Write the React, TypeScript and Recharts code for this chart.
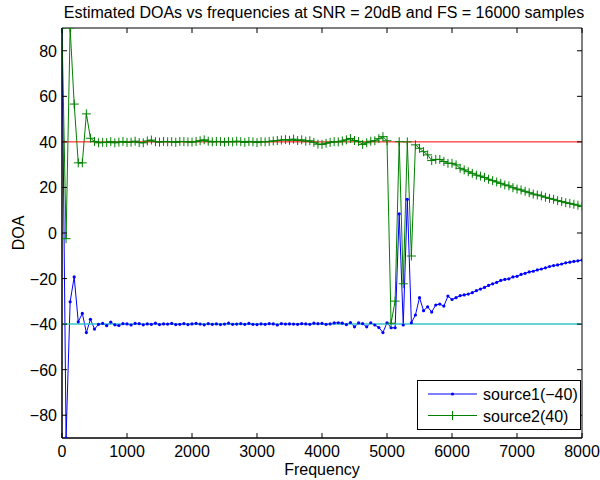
import React from 'react';
import { LineChart, Line, XAxis, YAxis, ReferenceLine, ReferenceArea, Legend } from 'recharts';

const TITLE = 'Estimated DOAs vs frequencies at SNR = 20dB and FS = 16000 samples';
const X_LABEL = 'Frequency';
const Y_LABEL = 'DOA';
const FREQ_STEP = 62.5;
const xTicks = [0, 1000, 2000, 3000, 4000, 5000, 6000, 7000, 8000];
const yTicks = [-80, -60, -40, -20, 0, 20, 40, 60, 80];
const trueDOA1 = -40;
const trueDOA2 = 40;
const seriesNames = ['source1(\u221240)', 'source2(40)'];

// source1 estimated DOA per frequency bin (bin step 62.5 Hz)
const source1 = [
  90, -90, -30.2, -19.3, -39, -35.3, -43.7, -37.9, -42.2, -40.1,
  -39.7, -40.7, -39.1, -40.3, -40.6, -39.8, -39.9, -40.4, -39.7, -39.8,
  -40.3, -39.9, -40.1, -39.6, -40.2, -39.9, -40.0, -39.7, -40.2, -40.1,
  -39.8, -40.2, -39.9, -39.7, -40.0, -40.3, -39.8, -40.1, -39.9, -40.2,
  -40.0, -39.6, -40.1, -40.0, -39.8, -40.1, -39.7, -40.1, -40.2, -39.9,
  -40.1, -39.8, -39.9, -40.4, -39.8, -40.0, -39.9, -40.0, -40.1, -39.8,
  -39.9, -40.1, -39.6, -39.8, -39.7, -40.1, -39.9, -39.5, -39.4, -39.6,
  -40.2, -39.3, -41.2, -39.5, -39.8, -41.2, -39.4, -40.4, -41.5, -43.7,
  -39.4, -41.6, -41.6, 8.4, -40.4, 14.8, -39.4, -36, -28.4, -34.1,
  -32.4, -34.7, -31.6, -31.2, -32.1, -27.7, -29.2, -28.4, -27.5, -27.2,
  -26.8, -26.2, -25.3, -24.6, -23.9, -23, -22.3, -21.7, -20.8, -20.4,
  -20.1, -19.3, -19, -18.2, -17.7, -17.1, -16.8, -16.2, -15.8, -15.3,
  -14.7, -14.3, -14, -13.6, -13.1, -12.8, -12.5, -12.2, -11.9,
];

// source2 estimated DOA per frequency bin
const source2 = [
  90, -2.5, 90, 56.6, 30.8, 30.8, 52.3, 41.6, 40.2, 39.6,
  39.8, 39.7, 40.1, 39.6, 39.9, 40.2, 39.8, 39.9, 40.3, 39.7,
  39.6, 40.4, 40.8, 40.1, 39.9, 40.2, 40.0, 40.1, 39.8, 40.2,
  40.1, 40.0, 39.9, 40.2, 40.5, 40.9, 40.3, 40.0, 40.2, 40.1,
  39.9, 40.2, 40.0, 40.3, 40.1, 39.8, 40.2, 40.0, 39.7, 40.1,
  40.0, 40.2, 40.4, 40.6, 40.8, 41.0, 40.7, 41.2, 40.6, 40.9,
  40.3, 40.5, 39.8, 39.0, 38.9, 39.4, 39.8, 40.1, 40.0, 40.4,
  40.9, 41.5, 40.6, 40.2, 38.9, 39.6, 40.3, 40.5, 41.4, 42.3,
  40.5, -39.6, -29.9, 40.1, -22.3, 40.0, -10.1, 38.7, 37.2, 35.7,
  34.3, 31.8, 32.3, 32.3, 31.4, 30.6, 30.6, 29.9, 28.4, 27.7,
  26.9, 26.2, 25.4, 25, 24.4, 23.6, 23, 22.4, 21.8, 21.1,
  20.7, 19.9, 19.3, 18.9, 18.3, 17.7, 17.1, 16.7, 16.3, 15.7,
  15.2, 14.8, 14.2, 13.8, 13.3, 13, 12.6, 12.2, 11.6,
];

const data = source1.map((v, i) => ({ f: i * FREQ_STEP, s1: v, s2: source2[i] }));

const W = 600;
const H = 480;
const PT = 28;
const PB = 438;
const PL = 62;
const PR = 582;
const FONT = '"Liberation Sans", Arial, Helvetica, sans-serif';
const FS = 16;
const BLUE = '#0000ff';
const GREEN = '#008000';

const fmt = (v: number) => (v < 0 ? '\u2212' + Math.abs(v) : String(v));

const XTick = (p: any) => {
  const { x, payload } = p;
  return (
    <g>
      <line x1={x} x2={x} y1={PB} y2={PB - 5} stroke="#000" />
      <line x1={x} x2={x} y1={PT} y2={PT + 5} stroke="#000" />
      <text x={x} y={457} textAnchor="middle" fontSize={FS} fill="#000" fontFamily={FONT}>
        {fmt(payload.value)}
      </text>
    </g>
  );
};

const YTick = (p: any) => {
  const { y, payload } = p;
  return (
    <g>
      <line x1={PL} x2={PL + 5} y1={y} y2={y} stroke="#000" />
      <line x1={PR} x2={PR - 5} y1={y} y2={y} stroke="#000" />
      <text x={57} y={y + 6} textAnchor="end" fontSize={FS} fill="#000" fontFamily={FONT}>
        {fmt(payload.value)}
      </text>
    </g>
  );
};

const BlueDot = (p: any) => {
  const { cx, cy, index } = p;
  if (cx == null || cy == null) return <g key={index} />;
  return <circle key={index} cx={cx} cy={cy} r={1.6} fill={BLUE} stroke="none" />;
};

const PlusDot = (p: any) => {
  const { cx, cy, index } = p;
  if (cx == null || cy == null) return <g key={index} />;
  const s = 4.5;
  return (
    <path
      key={index}
      d={`M${cx - s},${cy}L${cx + s},${cy}M${cx},${cy - s}L${cx},${cy + s}`}
      stroke={GREEN}
      strokeWidth={1}
      fill="none"
    />
  );
};

const LegendBox = () => (
  <div
    style={{
      width: 164,
      height: 50,
      boxSizing: 'border-box',
      border: '1px solid #000',
      background: '#fff',
    }}
  >
    <svg width={162} height={48} style={{ display: 'block' }}>
      <line x1={10} x2={59} y1={13} y2={13} stroke={BLUE} />
      <circle cx={34.5} cy={13} r={1.6} fill={BLUE} />
      <text x={65} y={19} fontSize={FS} fontFamily={FONT} fill="#000">
        {seriesNames[0]}
      </text>
      <line x1={10} x2={59} y1={34.5} y2={34.5} stroke={GREEN} />
      <path d="M34.5,30L34.5,39M30,34.5L39,34.5" stroke={GREEN} />
      <text x={65} y={40.5} fontSize={FS} fontFamily={FONT} fill="#000">
        {seriesNames[1]}
      </text>
    </svg>
  </div>
);

export default function App() {
  return (
    <div style={{ position: 'absolute', left: 0, top: 0, width: W, height: H, background: '#fff' }}>
      <LineChart
        width={W}
        height={H}
        data={data}
        margin={{ top: PT, right: W - PR, bottom: 12, left: 22 }}
      >
        <ReferenceArea x1={0} x2={8000} y1={-90} y2={90} fill="none" stroke="#000" strokeWidth={1} fillOpacity={0} />
        <XAxis
          dataKey="f"
          type="number"
          domain={[0, 8000]}
          ticks={xTicks}
          allowDataOverflow
          height={30}
          tickLine={false}
          axisLine={{ stroke: '#000' }}
          tick={XTick}
          interval={0}
          label={{
            content: () => (
              <text x={(PL + PR) / 2} y={475} textAnchor="middle" fontSize={FS} fontFamily={FONT} fill="#000">
                {X_LABEL}
              </text>
            ),
          }}
        />
        <YAxis
          type="number"
          domain={[-90, 90]}
          ticks={yTicks}
          allowDataOverflow
          width={40}
          tickLine={false}
          axisLine={{ stroke: '#000' }}
          tick={YTick}
          interval={0}
          label={{
            content: () => (
              <text
                x={24}
                y={(PT + PB) / 2}
                textAnchor="middle"
                fontSize={FS}
                fontFamily={FONT}
                fill="#000"
                transform={`rotate(-90, 24, ${(PT + PB) / 2})`}
              >
                {Y_LABEL}
              </text>
            ),
          }}
        />
        <Line
          type="linear"
          dataKey="s1"
          name={seriesNames[0]}
          stroke={BLUE}
          strokeWidth={1}
          dot={BlueDot}
          activeDot={false}
          isAnimationActive={false}
        />
        <Line
          type="linear"
          dataKey="s2"
          name={seriesNames[1]}
          stroke={GREEN}
          strokeWidth={1}
          dot={PlusDot}
          activeDot={false}
          isAnimationActive={false}
        />
        <ReferenceLine y={trueDOA2} stroke="#ff0000" strokeWidth={1} />
        <ReferenceLine y={trueDOA1} stroke="#33c6c6" strokeWidth={1.5} />
        <Legend
          layout="horizontal"
          verticalAlign="middle"
          align="center"
          content={LegendBox}
          wrapperStyle={{ position: 'absolute', left: 417, top: 380, width: 164, height: 50 }}
        />
      </LineChart>
      <svg
        width={W}
        height={24}
        style={{ position: 'absolute', left: 0, top: 0, pointerEvents: 'none' }}
      >
        <text x={324} y={18} textAnchor="middle" fontSize={FS} fontFamily={FONT} fill="#000">
          {TITLE}
        </text>
      </svg>
    </div>
  );
}
